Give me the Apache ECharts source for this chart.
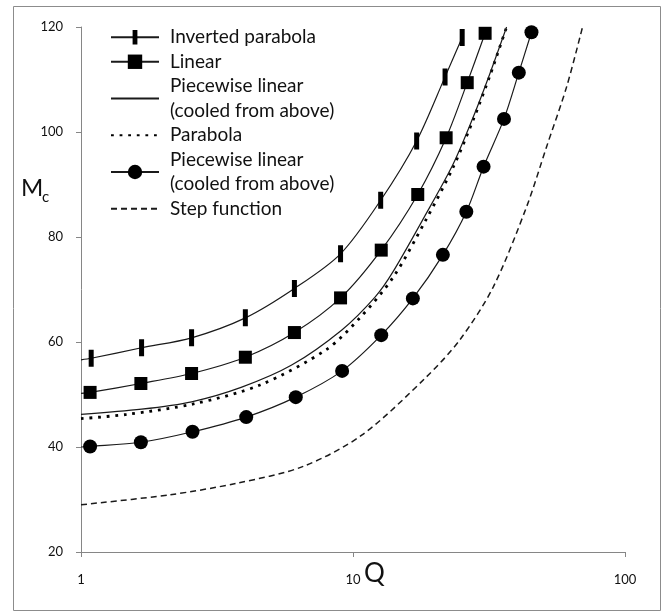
<!DOCTYPE html>
<html><head><meta charset="utf-8">
<script src="https://cdn.jsdelivr.net/npm/echarts@6/dist/echarts.min.js"></script>
<style>html,body{margin:0;padding:0;background:#fff}#c{width:663px;height:614px}</style>
</head><body><div id="c"></div>
<script>
// ---- data ----
const xTicks = [1, 10, 100];
const yTicks = [20, 40, 60, 80, 100, 120];
const names = [
  'Inverted parabola',
  'Linear',
  'Piecewise linear\n(cooled from above)',
  'Parabola',
  'Piecewise linear\n(cooled from above) ',
  'Step function'
];
// Inverted parabola (first point = curve start at Q=1, no marker)
const invQ = [1, 1.09, 1.67, 2.55, 4.02, 6.09, 9.0, 12.64, 17.14, 21.8, 25.2];
const invM = [56.6, 56.9, 58.9, 60.8, 64.6, 70.2, 76.8, 87.0, 98.3, 110.5, 118.0];
// Linear
const linQ = [1, 1.08, 1.66, 2.55, 4.02, 6.09, 9.0, 12.7, 17.3, 22.0, 26.3, 30.6];
const linM = [50.2, 50.4, 52.1, 54.0, 57.1, 61.8, 68.4, 77.5, 88.1, 98.9, 109.4, 118.8];
// Piecewise linear (solid, no markers)
const pwQ = [1, 1.67, 2.55, 3.9, 5.95, 9.1, 12.07, 14.04, 18.6, 23.4, 27.7, 31.9, 36.7];
const pwM = [46.2, 47.2, 48.6, 51.4, 55.6, 62.3, 68.6, 73.4, 84.5, 94.0, 102.9, 111.2, 120.0];
// Parabola (dotted)
const parQ = [1, 1.47, 2.59, 4.55, 8.0, 10.6, 14.04, 18.6, 23.4, 27.7, 31.9, 36.7];
const parM = [45.4, 46.2, 48.2, 51.8, 58.6, 64.6, 72.3, 83.4, 93.4, 102.4, 110.8, 120.0];
// Piecewise linear 2 (circles)
const circQ = [1, 1.08, 1.66, 2.57, 4.05, 6.16, 9.12, 12.7, 16.6, 21.4, 26.1, 30.2, 35.9, 40.7, 45.3];
const circM = [40.0, 40.1, 40.9, 42.9, 45.7, 49.5, 54.5, 61.3, 68.3, 76.6, 84.8, 93.4, 102.5, 111.3, 119.0];
// Step function (dashed)
const stepQ = [1, 2.125, 3.74, 6.56, 10.8, 18.66, 24.7, 32.8, 43.5, 51.5, 61.0, 69.8];
const stepM = [29.0, 30.9, 33.1, 36.3, 42.3, 53.4, 60.4, 70.5, 85.8, 97.2, 108.6, 120.0];

// ---- chart ----
const FONT = 'Lato';
function pts(q, m, firstNoMarker) {
  return q.map((x, i) => {
    const d = { value: [x, m[i]] };
    if (firstNoMarker && i === 0) d.symbol = 'none';
    return d;
  });
}
const barSymbol = 'path://M0,0L0,0ZM5,0H10V15H5ZM15,15L15,15Z';
const lineCol = '#1a1a1a';

const chart = echarts.init(document.getElementById('c'), null, { renderer: 'canvas' });
chart.setOption({
  animation: false,
  backgroundColor: '#fff',
  grid: { left: 81, right: 38, top: 27, bottom: 62, containLabel: false },
  xAxis: {
    type: 'log', logBase: 10, min: xTicks[0], max: xTicks[xTicks.length - 1],
    axisLine: { show: true, lineStyle: { color: '#868686', width: 1 } },
    axisTick: { show: true, length: 5, lineStyle: { color: '#868686' } },
    minorTick: { show: false },
    splitLine: { show: false },
    axisLabel: { margin: 21, fontSize: 13, color: '#111', fontFamily: FONT }
  },
  yAxis: {
    type: 'value', min: yTicks[0], max: yTicks[yTicks.length - 1], interval: 20,
    axisLine: { show: true, lineStyle: { color: '#868686', width: 1 } },
    axisTick: { show: true, length: 5, lineStyle: { color: '#868686' } },
    splitLine: { show: false },
    axisLabel: { margin: 18, fontSize: 13, color: '#111', fontFamily: FONT }
  },
  legend: {
    orient: 'vertical', left: 110, top: 25, padding: 0,
    itemWidth: 48, itemHeight: 18, itemGap: 0,
    selectedMode: false,
    textStyle: { fontSize: 19, lineHeight: 24.5, color: '#111', fontFamily: FONT, padding: [0, 0, 0, 6] },
    data: [
      { name: names[0] },
      { name: names[1] },
      { name: names[2], itemStyle: { opacity: 0 } },
      { name: names[3], itemStyle: { opacity: 0 } },
      { name: names[4] },
      { name: names[5], itemStyle: { opacity: 0 } }
    ]
  },
  graphic: [
    { type: 'rect', silent: true, shape: { x: 13.5, y: 6.5, width: 647, height: 604 },
      style: { fill: 'none', stroke: '#8c8c8c', lineWidth: 1 } },
    { type: 'text', left: 21, top: 176, style: { text: 'M', font: '24px Lato', fill: '#111' } },
    { type: 'text', left: 42, top: 190, style: { text: 'c', font: '15px Lato', fill: '#111' } },
    { type: 'text', left: 364, top: 561, style: { text: 'Q', font: '26px Lato', fill: '#111' } }
  ],
  series: [
    { name: names[5], type: 'line', smooth: 0.3, symbol: 'none', z: 2,
      lineStyle: { color: lineCol, width: 1.5, type: [6, 4] }, itemStyle: { color: lineCol },
      data: pts(stepQ, stepM, false) },
    { name: names[3], type: 'line', smooth: 0.3, symbol: 'none', z: 3,
      lineStyle: { color: '#000', width: 2.8, type: [2.8, 5.8] }, itemStyle: { color: '#000' },
      data: pts(parQ, parM, false) },
    { name: names[2], type: 'line', smooth: 0.3, symbol: 'none', z: 4,
      lineStyle: { color: lineCol, width: 1.2 }, itemStyle: { color: lineCol },
      data: pts(pwQ, pwM, false) },
    { name: names[4], type: 'line', smooth: 0.3, symbol: 'circle', symbolSize: 14, z: 5,
      lineStyle: { color: lineCol, width: 1.2 }, itemStyle: { color: '#000' },
      data: pts(circQ, circM, true) },
    { name: names[1], type: 'line', smooth: 0.3, symbol: 'rect', symbolSize: 13, z: 6,
      lineStyle: { color: lineCol, width: 1.2 }, itemStyle: { color: '#000' },
      data: pts(linQ, linM, true) },
    { name: names[0], type: 'line', smooth: 0.3, symbol: barSymbol, symbolSize: [15, 17], z: 7,
      lineStyle: { color: lineCol, width: 1.2 }, itemStyle: { color: '#000' },
      data: pts(invQ, invM, true) }
  ]
});
</script>
</body></html>
